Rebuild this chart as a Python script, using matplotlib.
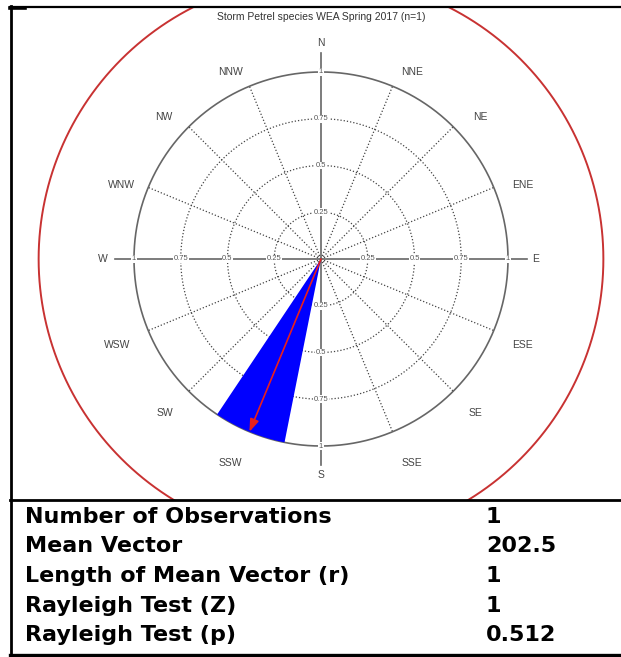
import matplotlib
matplotlib.use('Agg')
import matplotlib.pyplot as plt
from matplotlib.lines import Line2D
import numpy as np

plt.rcParams['font.family'] = ['Liberation Sans', 'DejaVu Sans']

# ── data ─────────────────────────────────────────────────────────────────────
title = 'Storm Petrel species WEA Spring 2017 (n=1)'
directions = ['N', 'NNE', 'NE', 'ENE', 'E', 'ESE', 'SE', 'SSE',
              'S', 'SSW', 'SW', 'WSW', 'W', 'WNW', 'NW', 'NNW']
bearings = np.arange(16) * 22.5
# relative frequency per 22.5° bin (single observation in SSW)
freq = [0, 0, 0, 0, 0, 0, 0, 0, 0, 1, 0, 0, 0, 0, 0, 0]
ring_levels = [0.25, 0.5, 0.75, 1]
ring_labels = ['0.25', '0.5', '0.75', '1']
mean_bearing = 202.5
mean_length = 1.0

stat_names = ['Number of Observations', 'Mean Vector', 'Length of Mean Vector (r)',
              'Rayleigh Test (Z)', 'Rayleigh Test (p)']
stat_values = ['1', '202.5', '1', '1', '0.512']

# where the compass labels sit (bearing, radius in ring units)
label_bearing = [0, 25.9, 48.2, 69.9, 90, 113.1, 135, 156,
                 180, 204, 225.4, 247.1, 270, 290.3, 312.1, 334.3]
label_radius = [1.155, 1.112, 1.14, 1.15, 1.145, 1.174, 1.165, 1.194,
                1.155, 1.194, 1.172, 1.183, 1.166, 1.14, 1.132, 1.11]

GRID = '#444444'
AXC = '#666666'

W, H = 621, 657
fig = plt.figure(figsize=(W / 100, H / 100), dpi=100)


def to_xy(bearing, r):
    b = np.deg2rad(bearing)
    return r * np.sin(b), r * np.cos(b)


# rose panel: axes spans the upper box, 187 px per unit, centre at (321, 259)
px_l, px_r, px_t, px_b = 11, 621, 8, 500
cx, cy, s = 321, 259, 187
ax = fig.add_axes([px_l / W, 1 - px_b / H, (px_r - px_l) / W, (px_b - px_t) / H])
ax.set_xlim((px_l - cx) / s, (px_r - cx) / s)
ax.set_ylim(-(px_b - cy) / s, (cy - px_t) / s)
ax.axis('off')

theta = np.linspace(0, 360, 721)
dots = (0, (1, 1.6))

# outer red circle
x, y = to_xy(theta, 1.51)
ax.plot(x, y, color='#c83232', lw=1.4, zorder=1)

# dotted rings and spokes
for r in ring_levels[:-1]:
    x, y = to_xy(theta, r)
    ax.plot(x, y, color=GRID, lw=0.9, ls=dots, zorder=2)
for b in bearings:
    if b % 90 == 0:
        continue
    x, y = to_xy(np.array([b, b]), np.array([0, 1]))
    ax.plot(x, y, color=GRID, lw=0.9, ls=dots, zorder=2)

# solid outer ring and compass axes
x, y = to_xy(theta, 1)
ax.plot(x, y, color=AXC, lw=1.2, zorder=3)
for b in [0, 90, 180, 270]:
    x, y = to_xy(np.array([b, b]), np.array([0, 1.1]))
    ax.plot(x, y, color=AXC, lw=1.2, zorder=3)
    for lev, lab in zip(ring_levels, ring_labels):
        lx, ly = to_xy(b, lev)
        ax.text(lx, ly, lab, fontsize=5.5, color='#555555', ha='center', va='center',
                zorder=4, bbox=dict(facecolor='white', edgecolor='none', pad=0.3))

# direction labels
for d, lb, lr in zip(directions, label_bearing, label_radius):
    lx, ly = to_xy(lb, lr)
    ax.text(lx, ly, d, fontsize=7.5, color='#444444', ha='center', va='center')

# rose petals
for b, f in zip(bearings, freq):
    if f <= 0:
        continue
    arc = np.linspace(b - 11.25, b + 11.25, 40)
    px, py = to_xy(arc, f)
    ax.fill(np.r_[0, px, 0], np.r_[0, py, 0], color='#0000ff', lw=0, zorder=5)

# mean vector arrow
mx, my = to_xy(mean_bearing, mean_length)
ax.annotate('', xy=(mx, my), xytext=(0, 0), zorder=6,
            arrowprops=dict(arrowstyle='-|>,head_length=0.75,head_width=0.27',
                            color='#e8201c', lw=1.2, shrinkA=0, shrinkB=0))

ax.text(0, (cy - 17) / s, title, fontsize=7.5, color='#333333', ha='center', va='center')

# ── frame lines ──────────────────────────────────────────────────────────────
def hline(ypx, x0, x1, lw):
    fig.add_artist(Line2D([x0 / W, x1 / W], [1 - ypx / H, 1 - ypx / H],
                          color='black', lw=lw, transform=fig.transFigure))

hline(7, 10, 621, 1.6)
hline(7.5, 10, 25, 2.6)
hline(500, 10, 621, 2.0)
hline(655, 10, 621, 2.4)
fig.add_artist(Line2D([11 / W, 11 / W], [1 - 6 / H, 1 - 656 / H],
                      color='black', lw=2.0, transform=fig.transFigure))

# ── statistics table ─────────────────────────────────────────────────────────
row_y = 517
for name, val in zip(stat_names, stat_values):
    fig.text(25 / W, 1 - row_y / H, name, fontsize=16, fontweight='bold',
             family='DejaVu Sans', ha='left', va='center')
    fig.text(486 / W, 1 - row_y / H, val, fontsize=16, fontweight='bold',
             family='DejaVu Sans', ha='left', va='center')
    row_y += 29.5

fig.savefig('out.png', dpi=100)
